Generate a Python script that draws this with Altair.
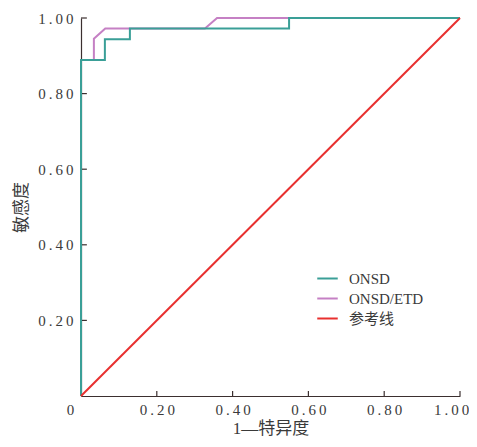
import altair as alt
import pandas as pd

# ROC data
onsd_fpr = [0.0, 0.0, 0.063, 0.063, 0.129, 0.129, 0.549, 0.549, 1.0]
onsd_tpr = [0.0, 0.889, 0.889, 0.944, 0.944, 0.972, 0.972, 1.0, 1.0]
etd_fpr = [0.0, 0.0, 0.034, 0.034, 0.064, 0.327, 0.359, 1.0]
etd_tpr = [0.0, 0.889, 0.889, 0.945, 0.972, 0.972, 1.0, 1.0]
ref_fpr = [0.0, 1.0]
ref_tpr = [0.0, 1.0]

series_names = ["ONSD", "ONSD/ETD", "参考线"]
series_colors = ["#3a9f97", "#c580c4", "#e8302f"]
tick_values = [0.2, 0.4, 0.6, 0.8, 1.0]
tick_labels = ["0.20", "0.40", "0.60", "0.80", "1.00"]
x_title = "1—特异度"
y_title = "敏感度"

rows = []
for name, xs, ys in [("ONSD/ETD", etd_fpr, etd_tpr), ("ONSD", onsd_fpr, onsd_tpr), ("参考线", ref_fpr, ref_tpr)]:
    for i, (xv, yv) in enumerate(zip(xs, ys)):
        rows.append({"series": name, "fpr": xv, "tpr": yv, "ord": i})
df = pd.DataFrame(rows)

SP = "\u2009"
def spaced(s):
    return SP.join(list(s))

label_expr = "datum.value === 0 ? '0' : " + " : ".join(
    f"abs(datum.value - {v}) < 0.001 ? '{spaced(l)}'" for v, l in zip(tick_values, tick_labels)
) + " : ''"
ylabel_expr = label_expr.replace("datum.value === 0 ? '0'", "datum.value === 0 ? ''")

FONT = "Liberation Serif, Noto Sans CJK SC"
TXT = "#3a3a3a"
AX = "#3b2f2f"

xscale = alt.Scale(domain=[0, 1], nice=False, zero=False)
yscale = alt.Scale(domain=[0, 1], nice=False, zero=False)

lines = alt.Chart(df).mark_line(strokeWidth=2, clip=False).encode(
    x=alt.X("fpr:Q", scale=xscale, title=x_title,
            axis=alt.Axis(values=[0] + tick_values, labelExpr=label_expr, ticks=False,
                          labelPadding=6, titlePadding=3, labelFlush=False,
                          labelOffset={"condition": [
                              {"test": "datum.value === 0", "value": -11},
                              {"test": "datum.value === 1", "value": -9}],
                              "value": 0})),
    y=alt.Y("tpr:Q", scale=yscale, title=y_title,
            axis=alt.Axis(values=[0] + tick_values, labelExpr=ylabel_expr, ticks=False,
                          labelPadding=8, titlePadding=7, labelFlush=False)),
    color=alt.Color("series:N", scale=alt.Scale(domain=series_names, range=series_colors),
                    legend=alt.Legend(title=None, orient="none", legendX=235, legendY=249,
                                      symbolType="stroke", symbolSize=420, symbolStrokeWidth=2,
                                      rowPadding=0, labelFont=FONT, labelFontSize=15,
                                      labelColor=TXT, labelOffset=10)),
    detail="series:N",
    order="ord:Q",
)

tdf = pd.DataFrame({"v": tick_values})
xticks = alt.Chart(tdf).mark_rule(color=AX, strokeWidth=1.2).encode(
    x=alt.X("v:Q", scale=xscale), y=alt.datum(0), y2=alt.datum(0.0135)
)
yticks = alt.Chart(tdf).mark_rule(color=AX, strokeWidth=1.2).encode(
    y=alt.Y("v:Q", scale=yscale), x=alt.datum(0), x2=alt.datum(0.0155)
)

chart = alt.layer(xticks, yticks, lines).properties(
    width=379, height=378,
    autosize=alt.AutoSizeParams(type="none"),
    padding={"left": 73, "top": 10, "right": 9, "bottom": 43},
).configure_view(stroke=None).configure_axis(
    grid=False, domainColor=AX, domainWidth=1.2,
    labelFont=FONT, labelFontSize=15, labelColor=TXT,
    titleFont=FONT, titleFontSize=17, titleColor=TXT, titleFontWeight="normal",
)

chart.save("out.html", embed_options={"renderer": "svg", "actions": False})
